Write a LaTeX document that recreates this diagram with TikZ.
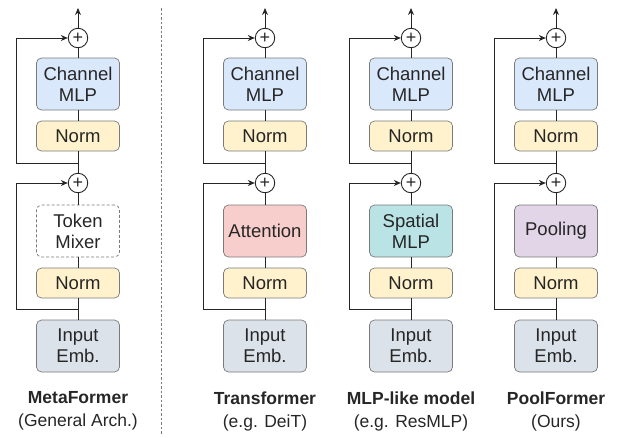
\documentclass[tikz,border=0pt]{standalone}
\usepackage{fontspec}
\setmainfont{Liberation Sans}
\usetikzlibrary{arrows.meta}
\definecolor{chanblue}{HTML}{DAE8FC}
\definecolor{normyellow}{HTML}{FFF2CC}
\definecolor{attnpink}{HTML}{F8CECC}
\definecolor{spatteal}{HTML}{B9E3E4}
\definecolor{poolpurple}{HTML}{E1D5E7}
\definecolor{embgray}{HTML}{DCE2EA}
\definecolor{boxline}{HTML}{7A7A7A}
\definecolor{lineblack}{HTML}{262626}
\begin{document}
\begin{tikzpicture}[x=1pt, y=-1pt,
    every node/.style={align=center, text=lineblack, font=\fontsize{18.5}{21}\selectfont},
    block/.style={draw=boxline, rounded corners=5pt, line width=0.7pt,
      minimum width=83pt, inner sep=0pt},
    tallblock/.style={block, minimum height=52pt},
    normblock/.style={block, minimum height=30pt, fill=normyellow},
    sumnode/.style={circle, draw=lineblack, line width=0.9pt, minimum size=19.5pt,
      inner sep=0pt, font=\fontsize{18}{18}\selectfont},
    link/.style={draw=lineblack, line width=1pt},
    skip/.style={link, -{Stealth[length=7pt,width=6pt]}},
    caption/.style={font=\fontsize{17.5}{23}\selectfont}]
\useasboundingbox (0,0) rectangle (620,437);

% MetaFormer
\coordinate (meta-out) at (78,8);
\node[sumnode] (meta-sum1) at (78,38) {+};
\node[tallblock, fill=chanblue] (meta-chan) at (78,84) {Channel\\MLP};
\node[normblock] (meta-norm1) at (78,136) {Norm};
\coordinate (meta-fork1) at (78,163);
\node[sumnode] (meta-sum2) at (78,183) {+};
\node[tallblock, dash pattern=on 3pt off 2pt, fill=white] (meta-mixer) at (78,231) {Token\\Mixer};
\node[normblock] (meta-norm2) at (78,283) {Norm};
\coordinate (meta-fork2) at (78,309);
\node[tallblock, fill=embgray] (meta-emb) at (78,346) {Input\\Emb.};
\node[caption] (meta-caption) at (78,411) {\textbf{MetaFormer}\\(General Arch.)};
\coordinate (meta-turn1) at (16,38);
\coordinate (meta-turn2) at (16,183);
\draw[link] (meta-emb) -- (meta-norm2) -- (meta-mixer) -- (meta-sum2)
  -- (meta-norm1) -- (meta-chan) -- (meta-sum1);
\draw[skip] (meta-sum1) -- (meta-out);
\draw[skip] (meta-fork2) -| (meta-turn2) -- (meta-sum2);
\draw[skip] (meta-fork1) -| (meta-turn1) -- (meta-sum1);

% separator
\coordinate (sep-top) at (161,8);
\coordinate (sep-bot) at (161,435);
\draw[boxline, line width=0.8pt, dash pattern=on 2.5pt off 2pt] (sep-top) -- (sep-bot);

% Transformer
\coordinate (trans-out) at (265,8);
\node[sumnode] (trans-sum1) at (265,38) {+};
\node[tallblock, fill=chanblue] (trans-chan) at (265,84) {Channel\\MLP};
\node[normblock] (trans-norm1) at (265,136) {Norm};
\coordinate (trans-fork1) at (265,163);
\node[sumnode] (trans-sum2) at (265,183) {+};
\node[tallblock, fill=attnpink] (trans-mixer) at (265,231) {Attention};
\node[normblock] (trans-norm2) at (265,283) {Norm};
\coordinate (trans-fork2) at (265,309);
\node[tallblock, fill=embgray] (trans-emb) at (265,346) {Input\\Emb.};
\node[caption] (trans-caption) at (265,411) {\textbf{Transformer}\\(e.g. DeiT)};
\coordinate (trans-turn1) at (203,38);
\coordinate (trans-turn2) at (203,183);
\draw[link] (trans-emb) -- (trans-norm2) -- (trans-mixer) -- (trans-sum2)
  -- (trans-norm1) -- (trans-chan) -- (trans-sum1);
\draw[skip] (trans-sum1) -- (trans-out);
\draw[skip] (trans-fork2) -| (trans-turn2) -- (trans-sum2);
\draw[skip] (trans-fork1) -| (trans-turn1) -- (trans-sum1);

% MLP-like model
\coordinate (mlp-out) at (411,8);
\node[sumnode] (mlp-sum1) at (411,38) {+};
\node[tallblock, fill=chanblue] (mlp-chan) at (411,84) {Channel\\MLP};
\node[normblock] (mlp-norm1) at (411,136) {Norm};
\coordinate (mlp-fork1) at (411,163);
\node[sumnode] (mlp-sum2) at (411,183) {+};
\node[tallblock, fill=spatteal] (mlp-mixer) at (411,231) {Spatial\\MLP};
\node[normblock] (mlp-norm2) at (411,283) {Norm};
\coordinate (mlp-fork2) at (411,309);
\node[tallblock, fill=embgray] (mlp-emb) at (411,346) {Input\\Emb.};
\node[caption] (mlp-caption) at (411,411) {\textbf{MLP-like model}\\(e.g. ResMLP)};
\coordinate (mlp-turn1) at (349,38);
\coordinate (mlp-turn2) at (349,183);
\draw[link] (mlp-emb) -- (mlp-norm2) -- (mlp-mixer) -- (mlp-sum2)
  -- (mlp-norm1) -- (mlp-chan) -- (mlp-sum1);
\draw[skip] (mlp-sum1) -- (mlp-out);
\draw[skip] (mlp-fork2) -| (mlp-turn2) -- (mlp-sum2);
\draw[skip] (mlp-fork1) -| (mlp-turn1) -- (mlp-sum1);

% PoolFormer
\coordinate (pool-out) at (556,8);
\node[sumnode] (pool-sum1) at (556,38) {+};
\node[tallblock, fill=chanblue] (pool-chan) at (556,84) {Channel\\MLP};
\node[normblock] (pool-norm1) at (556,136) {Norm};
\coordinate (pool-fork1) at (556,163);
\node[sumnode] (pool-sum2) at (556,183) {+};
\node[tallblock, fill=poolpurple] (pool-mixer) at (556,231) {Pooling};
\node[normblock] (pool-norm2) at (556,283) {Norm};
\coordinate (pool-fork2) at (556,309);
\node[tallblock, fill=embgray] (pool-emb) at (556,346) {Input\\Emb.};
\node[caption] (pool-caption) at (556,411) {\textbf{PoolFormer}\\(Ours)};
\coordinate (pool-turn1) at (494,38);
\coordinate (pool-turn2) at (494,183);
\draw[link] (pool-emb) -- (pool-norm2) -- (pool-mixer) -- (pool-sum2)
  -- (pool-norm1) -- (pool-chan) -- (pool-sum1);
\draw[skip] (pool-sum1) -- (pool-out);
\draw[skip] (pool-fork2) -| (pool-turn2) -- (pool-sum2);
\draw[skip] (pool-fork1) -| (pool-turn1) -- (pool-sum1);
\end{tikzpicture}
\end{document}
